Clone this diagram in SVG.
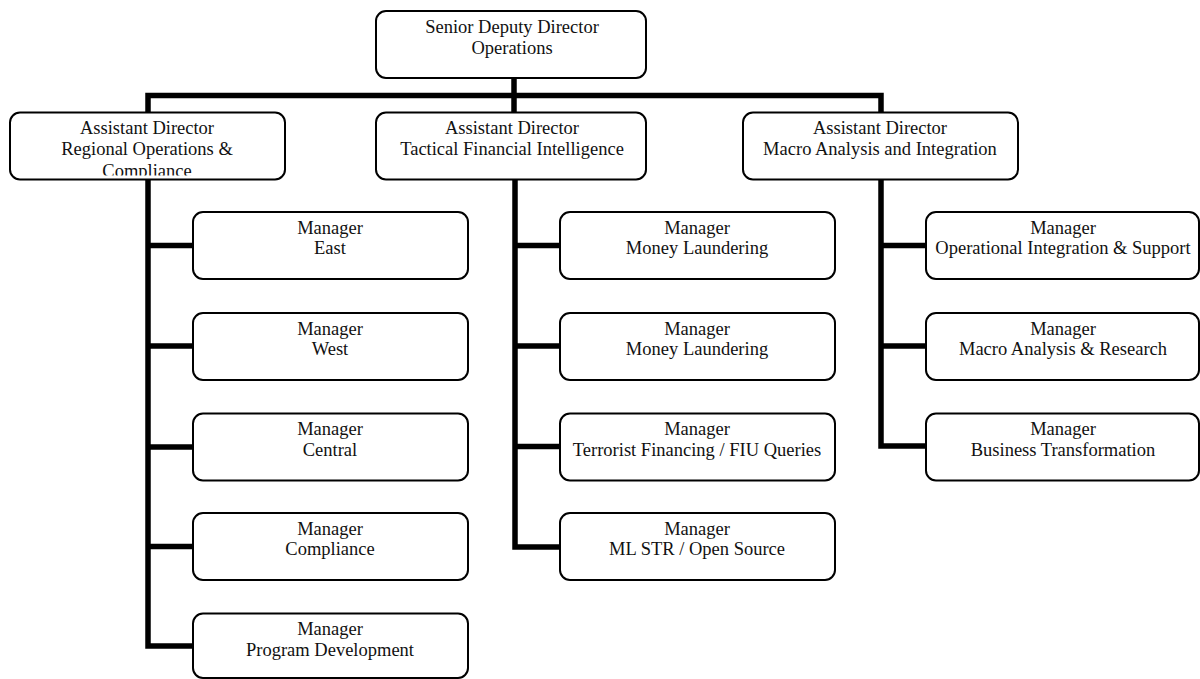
<svg xmlns="http://www.w3.org/2000/svg" width="1200" height="679" viewBox="0 0 1200 679">
<style>
.box{fill:#fff;stroke:#000;stroke-width:2}
.t{font-family:"Liberation Serif","Times New Roman",serif;font-size:18.5px;fill:#111;text-anchor:middle}
.c{fill:none;stroke:#000;stroke-width:5.5;stroke-linejoin:miter;stroke-linecap:butt}
</style>
<defs>
<clipPath id="clipRO"><rect x="11" y="113" width="273" height="62.5"/></clipPath>
</defs>
<rect width="1200" height="679" fill="#fff"/>
<g id="connectors">
<path class="c" d="M514,78 V113"/>
<path class="c" d="M148,113 V95.5 H881 V113"/>
<path class="c" d="M148,179 V646 H193"/>
<path class="c" d="M148,245.5 H193 M148,346 H193 M148,447 H193 M148,546.5 H193"/>
<path class="c" d="M515,179 V547 H560"/>
<path class="c" d="M515,245.5 H560 M515,346 H560 M515,446.5 H560"/>
<path class="c" d="M881,179 V446 H926"/>
<path class="c" d="M881,245.5 H926 M881,346 H926"/>
</g>
<g id="sdd">
<rect class="box" x="376" y="11" width="270" height="67" rx="10"/>
<text class="t" x="512" y="33">Senior Deputy Director</text>
<text class="t" x="512" y="53.5">Operations</text>
</g>
<g id="ad-regional">
<rect class="box" x="10" y="112.5" width="275" height="67" rx="10"/>
<g clip-path="url(#clipRO)">
<text class="t" x="147" y="134">Assistant Director</text>
<text class="t" x="147" y="154.5">Regional Operations &amp;</text>
<text class="t" x="147" y="176.5">Compliance</text>
</g>
</g>
<g id="ad-tactical">
<rect class="box" x="376" y="112.5" width="270" height="67" rx="10"/>
<text class="t" x="512" y="134">Assistant Director</text>
<text class="t" x="512" y="154.5">Tactical Financial Intelligence</text>
</g>
<g id="ad-macro">
<rect class="box" x="743" y="112.5" width="275" height="67" rx="10"/>
<text class="t" x="880" y="134">Assistant Director</text>
<text class="t" x="880" y="154.5">Macro Analysis and Integration</text>
</g>
<g id="m-east">
<rect class="box" x="193" y="212" width="275" height="67" rx="10"/>
<text class="t" x="330" y="233.5">Manager</text>
<text class="t" x="330" y="254">East</text>
</g>
<g id="m-west">
<rect class="box" x="193" y="313" width="275" height="67" rx="10"/>
<text class="t" x="330" y="334.5">Manager</text>
<text class="t" x="330" y="355">West</text>
</g>
<g id="m-central">
<rect class="box" x="193" y="413.5" width="275" height="67" rx="10"/>
<text class="t" x="330" y="435">Manager</text>
<text class="t" x="330" y="455.5">Central</text>
</g>
<g id="m-compliance">
<rect class="box" x="193" y="513" width="275" height="67" rx="10"/>
<text class="t" x="330" y="534.5">Manager</text>
<text class="t" x="330" y="555">Compliance</text>
</g>
<g id="m-program">
<rect class="box" x="193" y="613.5" width="275" height="64.5" rx="10"/>
<text class="t" x="330" y="635">Manager</text>
<text class="t" x="330" y="655.5">Program Development</text>
</g>
<g id="m-ml1">
<rect class="box" x="560" y="212" width="275" height="67" rx="10"/>
<text class="t" x="697" y="233.5">Manager</text>
<text class="t" x="697" y="254">Money Laundering</text>
</g>
<g id="m-ml2">
<rect class="box" x="560" y="313" width="275" height="67" rx="10"/>
<text class="t" x="697" y="334.5">Manager</text>
<text class="t" x="697" y="355">Money Laundering</text>
</g>
<g id="m-tf">
<rect class="box" x="560" y="413.5" width="275" height="67" rx="10"/>
<text class="t" x="697" y="435">Manager</text>
<text class="t" x="697" y="455.5">Terrorist Financing / FIU Queries</text>
</g>
<g id="m-mlstr">
<rect class="box" x="560" y="513" width="275" height="67" rx="10"/>
<text class="t" x="697" y="534.5">Manager</text>
<text class="t" x="697" y="555">ML STR / Open Source</text>
</g>
<g id="m-ois">
<rect class="box" x="926" y="212" width="273" height="67" rx="10"/>
<text class="t" x="1063" y="233.5">Manager</text>
<text class="t" x="1063" y="254">Operational Integration &amp; Support</text>
</g>
<g id="m-mar">
<rect class="box" x="926" y="313" width="273" height="67" rx="10"/>
<text class="t" x="1063" y="334.5">Manager</text>
<text class="t" x="1063" y="355">Macro Analysis &amp; Research</text>
</g>
<g id="m-bt">
<rect class="box" x="926" y="413.5" width="273" height="67" rx="10"/>
<text class="t" x="1063" y="435">Manager</text>
<text class="t" x="1063" y="455.5">Business Transformation</text>
</g>
</svg>
